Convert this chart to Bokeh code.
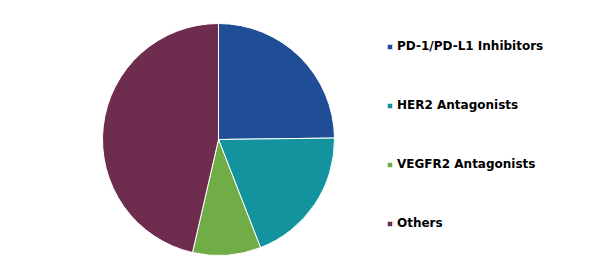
import math
from bokeh.plotting import figure
from bokeh.models import ColumnDataSource, Range1d, Legend, LegendItem
from bokeh.embed import file_html
from bokeh.resources import INLINE

categories = ["PD-1/PD-L1 Inhibitors", "HER2 Antagonists", "VEGFR2 Antagonists", "Others"]
shares = [24.8, 19.3, 9.5, 46.4]
colors = ["#1F4E96", "#13939E", "#70AD47", "#6E2C4F"]

total = sum(shares)
starts, ends = [], []
cum = 0.0
for s in shares:
    starts.append(math.pi / 2 - cum / total * 2 * math.pi)
    cum += s
    ends.append(math.pi / 2 - cum / total * 2 * math.pi)

W, H = 590, 269
p = figure(width=W, height=H, output_backend="svg", toolbar_location=None,
           x_range=Range1d(0, W), y_range=Range1d(0, H), min_border=0,
           outline_line_color=None, background_fill_color="white")
p.axis.visible = False
p.grid.visible = False

src = ColumnDataSource(dict(cat=categories, start=starts, end=ends, color=colors))
r = p.wedge(x=218, y=H - 139, radius=116, radius_units="screen",
            start_angle="start", end_angle="end", direction="clock",
            fill_color="color", line_color="white", line_width=1, source=src)

items = [LegendItem(label=c, renderers=[r], index=i) for i, c in enumerate(categories)]
legend = Legend(items=items, location=(386, 39), orientation="vertical",
                glyph_width=7, glyph_height=7, label_standoff=4,
                label_text_font="DejaVu Sans", label_text_font_style="bold",
                label_text_font_size="12px", label_text_color="#000000",
                label_height=14, spacing=45, padding=0, margin=0,
                background_fill_alpha=0, border_line_color=None)
p.add_layout(legend)

open("out.html", "w").write(file_html(p, INLINE))
